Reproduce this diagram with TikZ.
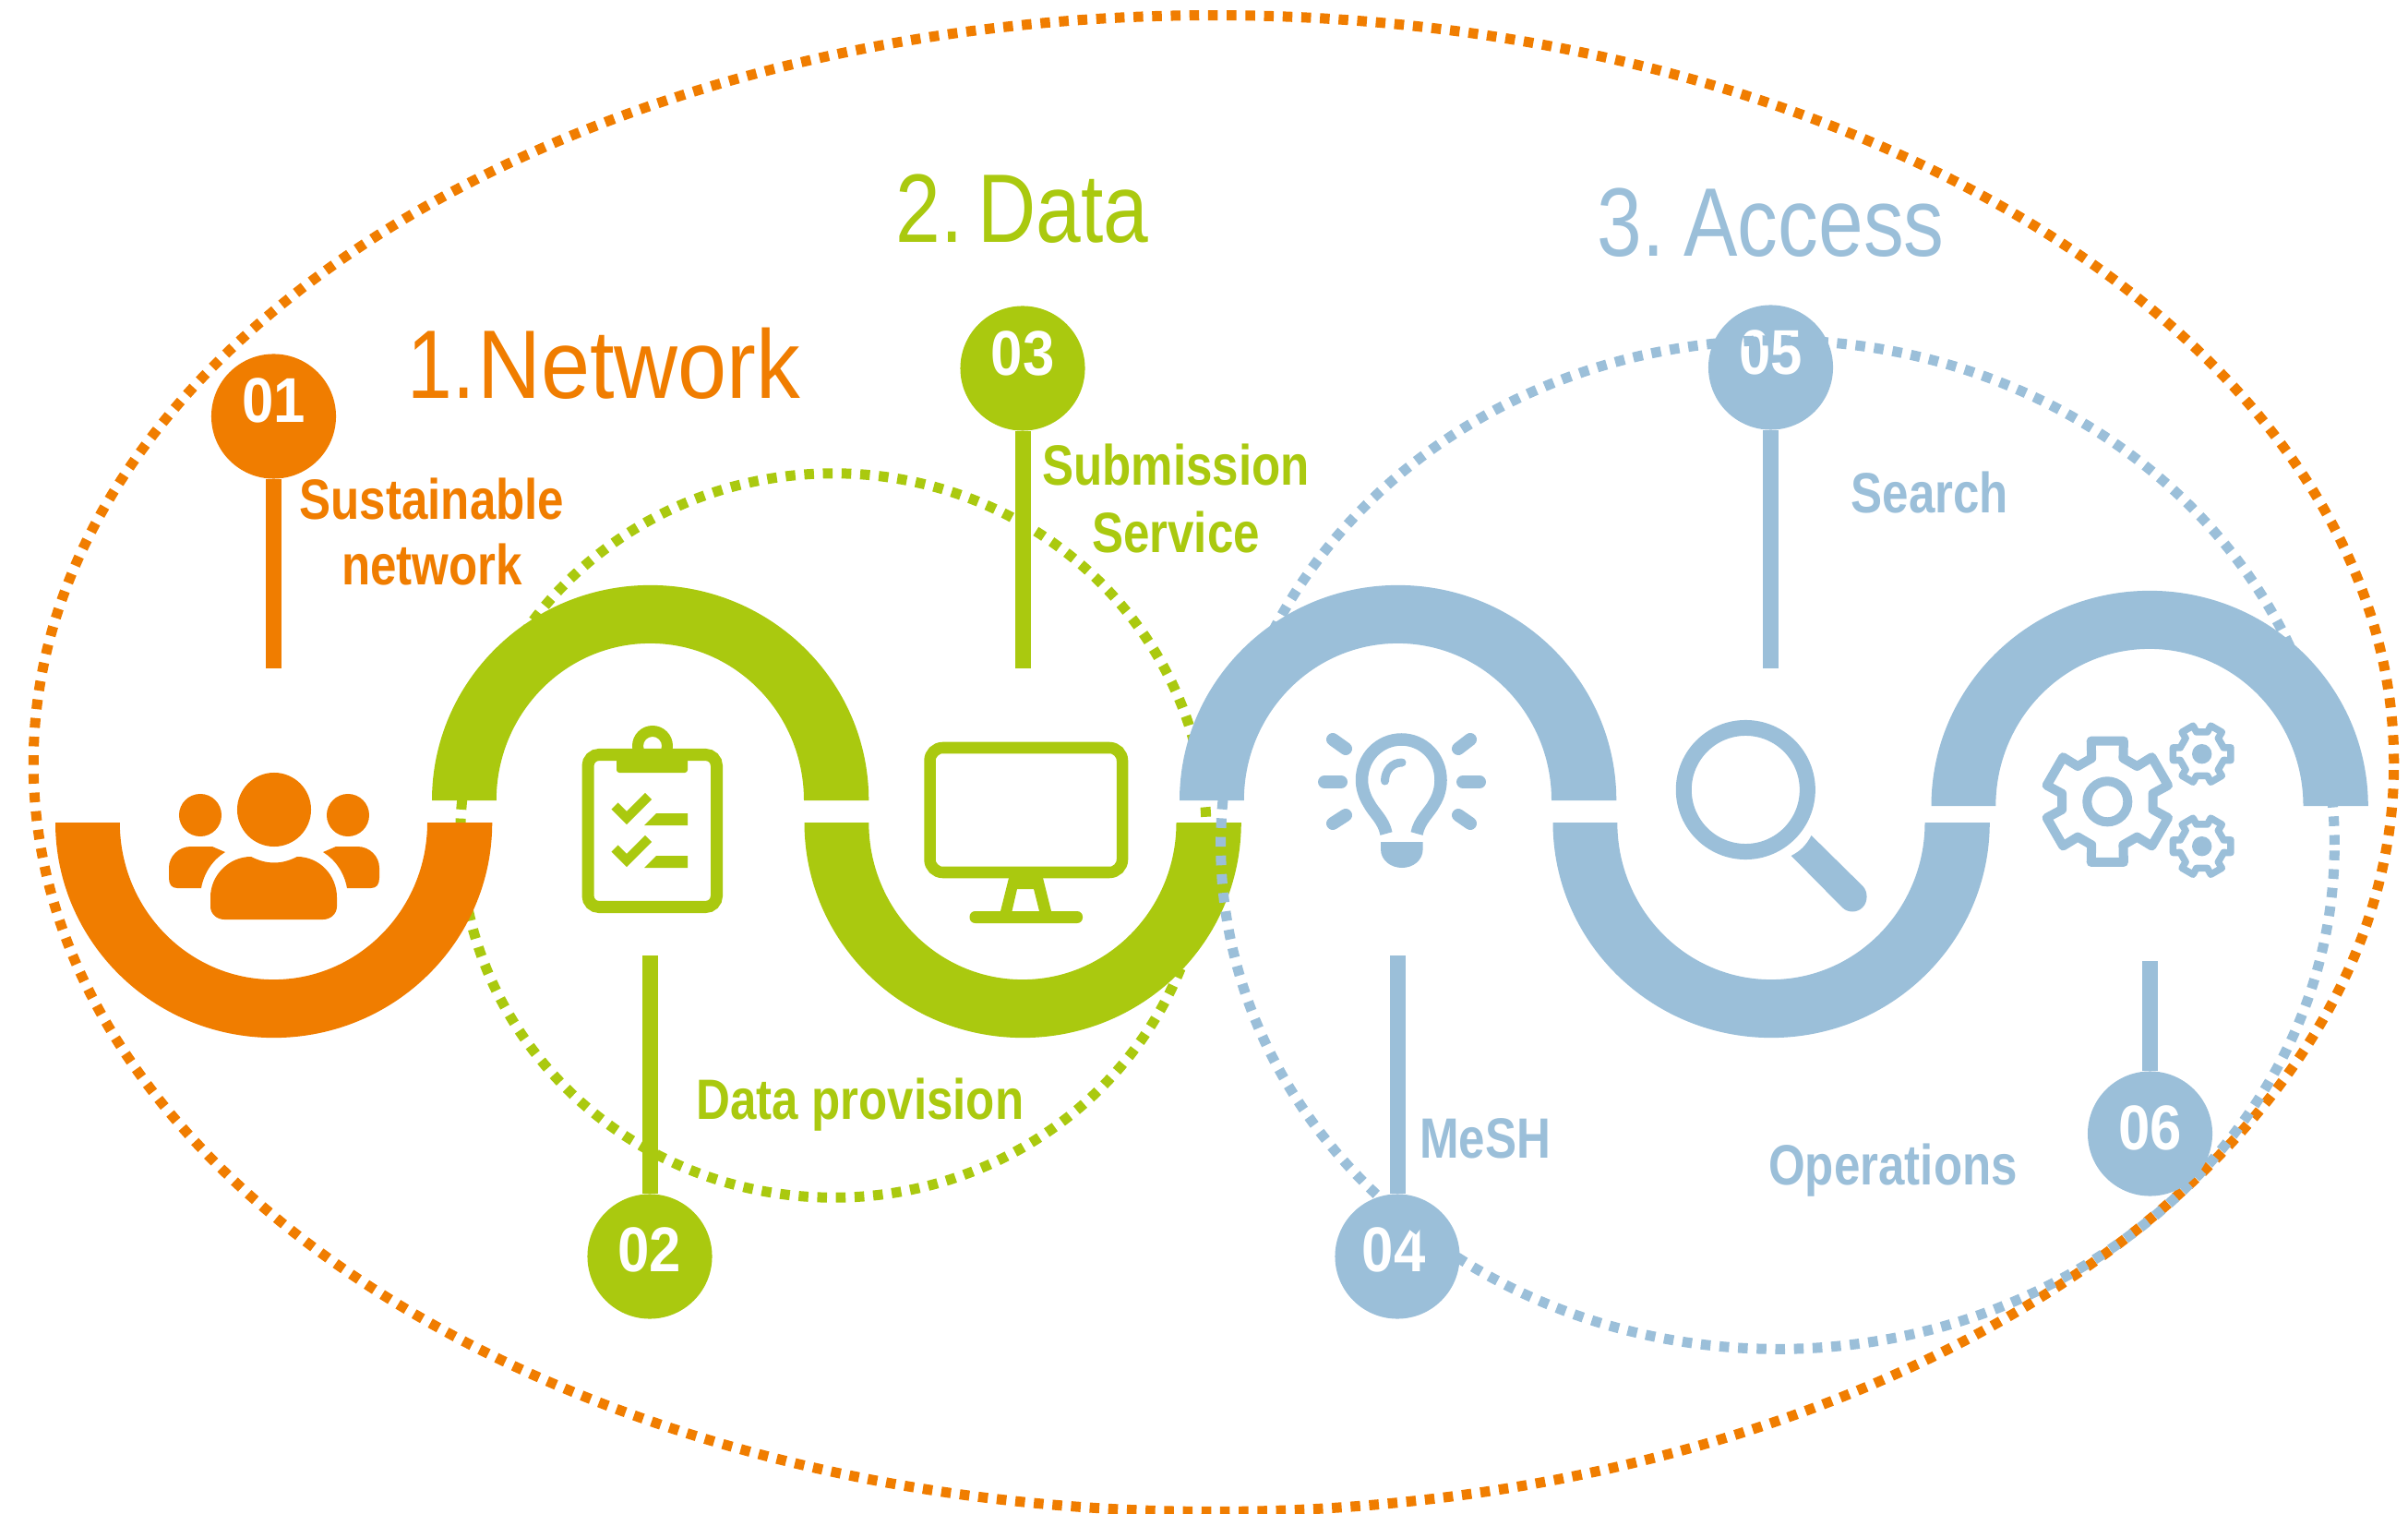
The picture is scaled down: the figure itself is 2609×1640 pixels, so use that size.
\documentclass[tikz,border=0pt]{standalone}
\usepackage{fontspec}
\setmainfont{Liberation Sans}
\newfontfamily\titlef[FakeStretch=0.83]{Liberation Sans}
\newfontfamily\titlew[FakeStretch=0.905]{Liberation Sans}
\newfontfamily\labelf[FakeStretch=0.83,BoldFont={Liberation Sans Bold}]{Liberation Sans}
\newfontfamily\numf[FakeStretch=0.9]{Liberation Sans Bold}
\definecolor{cOrange}{HTML}{F07D00}
\definecolor{cGreen}{HTML}{AAC90F}
\definecolor{cBlue}{HTML}{9BBFD9}
\newcommand\ringlow[2]{%
  \fill[#2] (#1-236.5,891) arc[start angle=180,end angle=360,x radius=2.365cm,y radius=2.33cm]
    -- (#1+166.5,891) arc[start angle=360,end angle=180,x radius=1.665cm,y radius=1.70cm] -- cycle;}
\newcommand\ringhigh[3]{%
  \fill[#2] (#1-236.5,#3) arc[start angle=180,end angle=0,x radius=2.365cm,y radius=2.33cm]
    -- (#1+166.5,#3) arc[start angle=0,end angle=180,x radius=1.665cm,y radius=1.70cm] -- cycle;}
\tikzset{
  dots/.style={line width=1.1mm,dash pattern=on 1.05mm off .97mm},
  pinball/.style={circle,minimum size=1.35cm,inner sep=0pt,fill=#1},
  stem/.style={line width=1.7mm,draw=#1},
  numtxt/.style={anchor=base,white,inner sep=0pt,font=\numf\fontsize{19.5}{20}\selectfont},
  lbl/.style={anchor=base,text=#1,inner sep=0pt,font=\labelf\bfseries\fontsize{17.5}{18}\selectfont},
  ttl/.style={anchor=base west,text=#1,inner sep=0pt,font=\titlef\fontsize{30}{32}\selectfont},
}
\begin{document}
\begin{tikzpicture}[x=0.01cm,y=-0.01cm]
\useasboundingbox (0,0) rectangle (2609,1640);
% dotted ellipses behind
\coordinate (eo) at (1315,827);
\coordinate (eg) at (903,905);
\coordinate (eb) at (1926,915);
\draw[dots,cOrange] (eo) ellipse[x radius=12.78cm,y radius=8.1cm];
\draw[dots,cGreen] (eg) ellipse[x radius=4.04cm,y radius=3.92cm];
% rings
\ringlow{296.5}{cOrange}
\ringhigh{704.5}{cGreen}{867}
\ringlow{1108}{cGreen}
\ringhigh{1514.5}{cBlue}{867}
\ringlow{1919}{cBlue}
\ringhigh{2329}{cBlue}{873}
% people icon
\fill[cOrange] (297,877) circle[radius=.4cm];
\fill[cOrange] (217,883) circle[radius=.23cm];
\fill[cOrange] (377,883) circle[radius=.23cm];
\fill[cOrange] (272,928) .. controls (280,932) and (288,934.5) .. (297,934.5) .. controls (306,934.5) and (314,932) .. (322,928)
  .. controls (346,928) and (365,948) .. (365,972) -- (365,982) .. controls (365,990) and (358,996) .. (350,996) -- (243,996)
  .. controls (235,996) and (228,990) .. (228,982) -- (228,972) .. controls (228,948) and (248,928) .. (272,928) -- cycle;
\fill[cOrange] (244,923) -- (230,917) -- (207,917) .. controls (193,917) and (183,928) .. (183,940) -- (183,951)
  .. controls (183,958) and (186,962) .. (192,962) -- (218,962) .. controls (221,945) and (231,931) .. (244,923) -- cycle;
\fill[cOrange] (350,923) -- (364,917) -- (387,917) .. controls (401,917) and (411,928) .. (411,940) -- (411,951)
  .. controls (411,958) and (408,962) .. (402,962) -- (376,962) .. controls (373,945) and (363,931) .. (350,923) -- cycle;
% clipboard icon
\draw[cGreen,line width=1.3mm,rounded corners=1.2mm] (637,817.5) rectangle (776.5,982.5);
\fill[cGreen,rounded corners=.3mm] (668,811) rectangle (745,837);
\fill[cGreen,even odd rule] (707,808) circle[radius=.22cm] (707,808) circle[radius=.1cm];
\foreach \d in {0,46}{
  \draw[cGreen,line width=1mm] (666,873+\d) -- (679,886+\d) -- (702.5,862.5+\d);
  \fill[cGreen] (711,881+\d) -- (745,881+\d) -- (745,894+\d) -- (698,894+\d) -- cycle;
}
% monitor icon
\draw[cGreen,line width=1.25mm,rounded corners=1.4mm] (1007.5,810) rectangle (1216,945);
\fill[cGreen,even odd rule] (1093,951) -- (1130,951) -- (1139,987) -- (1084,987) -- cycle
  (1102,963) -- (1120,963) -- (1126,987) -- (1096.5,987) -- cycle;
\fill[cGreen,rounded corners=.6mm] (1050.5,987) rectangle (1173,1000);
% bulb icon
\draw[cBlue,line width=1.35mm] (1502,903) .. controls (1499,888) and (1488,880) .. (1483,870) .. controls (1478,862) and (1475.5,853) .. (1475.5,845)
  .. controls (1475.5,820) and (1495,801) .. (1518.4,801) .. controls (1542,801) and (1561,820) .. (1561,845)
  .. controls (1561,853) and (1559,862) .. (1554,870) .. controls (1549,880) and (1538,888) .. (1535,903);
\draw[cBlue,line width=.9mm,line cap=round] (1500.5,846) .. controls (1500.5,835) and (1508,826) .. (1519,826);
\fill[cBlue] (1496,912) -- (1541.6,912) -- (1541.6,920) .. controls (1541.6,932) and (1531,940) .. (1519,940) .. controls (1507,940) and (1496,932) .. (1496,920) -- cycle;
\foreach \a/\b/\c/\e in {1435/847/1453/847,1585/847/1603/847,1444/801/1458/811,1593/801/1580/811,1458/883/1444/892,1580/883/1593/892}
  \draw[cBlue,line width=1.4mm,line cap=round] (\a,\b) -- (\c,\e);
% magnifier icon
\draw[cBlue,line width=1.7mm] (1891.3,855.5) circle[radius=.67cm];
\fill[cBlue] (1962.6,905) .. controls (1956,917) and (1950,922) .. (1940.7,927) -- (1996,983) .. controls (2002,989) and (2012,989) .. (2018,983) .. controls (2024,977) and (2024,966) .. (2018.4,960) -- cycle;
% gears icon
\begin{scope}[shift={(2283.3,868.3)}]
  \draw[cBlue,line width=1mm,line join=round] (110:50) \foreach \a in {90,30,-30,-90,-150,-210}{ -- (\a+20:50) -- (\a+15:68) -- (\a-15:68) -- (\a-20:50)} -- cycle;
  \draw[cBlue,line width=1mm] (0,0) circle[radius=.22cm];
\end{scope}
\foreach \cy in {816.7,916.7}{
\begin{scope}[shift={(2385.7,\cy)}]
  \draw[cBlue,line width=.75mm,line join=round] (16:24.5) \foreach \a in {0,-60,-120,-180,-240,-300}{ -- (\a+16:24.5) -- (\a+12.5:32) -- (\a-12.5:32) -- (\a-16:24.5)} -- cycle;
  \fill[cBlue] (0,0) circle[radius=.107cm];
\end{scope}}
% pins
\node[pinball=cOrange] (p1) at (296.5,451) {};
\node[pinball=cGreen] (p2) at (704,1361) {};
\node[pinball=cGreen] (p3) at (1108,399) {};
\node[pinball=cBlue] (p4) at (1514,1361) {};
\node[pinball=cBlue] (p5) at (1918.5,398) {};
\node[pinball=cBlue] (p6) at (2329.5,1228) {};
\coordinate (s1) at (296.5,724);
\coordinate (s2) at (704,1035);
\coordinate (s3) at (1108,724);
\coordinate (s4) at (1514,1035);
\coordinate (s5) at (1918.5,724);
\coordinate (s6) at (2329.5,1041);
\draw[stem=cOrange] (p1.south) -- (s1);
\draw[stem=cGreen] (p2.north) -- (s2);
\draw[stem=cGreen] (p3.south) -- (s3);
\draw[stem=cBlue] (p4.north) -- (s4);
\draw[stem=cBlue] (p5.south) -- (s5);
\draw[stem=cBlue] (p6.north) -- (s6);
\node[numtxt] (n1) at (296.5,458) {01};
\node[numtxt] (n2) at (704,1377) {02};
\node[numtxt] (n3) at (1108,407) {03};
\node[numtxt] (n4) at (1510,1377) {04};
\node[numtxt] (n5) at (1918.5,406) {05};
\node[numtxt] (n6) at (2329.5,1245) {06};
% titles
\node[ttl=cOrange] (t1) at (441,432) {1.\hspace{.7pt}{\titlew Network}};
\node[ttl=cGreen] (t2) at (970,263) {2.\hspace{4.5pt}Data};
\node[ttl=cBlue] (t3) at (1730,278) {3.\hspace{5.9pt}Access};
% labels
\node[lbl=cOrange] (l1) at (468,563) {Sustainable};
\node[lbl=cOrange] (l1b) at (468,634) {network};
\node[lbl=cGreen] (l3) at (1274,526) {Submission};
\node[lbl=cGreen] (l3b) at (1274,599) {Service};
\node[lbl=cGreen] (l2) at (932,1212) {Data provision};
\node[lbl=cBlue] (l5) at (2091,556) {Search};
\node[lbl=cBlue] (l4) at (1609,1254) {MeSH};
\node[lbl=cBlue] (l6) at (2051,1283) {Operations};
% blue ellipse on top
\draw[dots,cBlue] (eb) ellipse[x radius=6.03cm,y radius=5.46cm];
\end{tikzpicture}
\end{document}
